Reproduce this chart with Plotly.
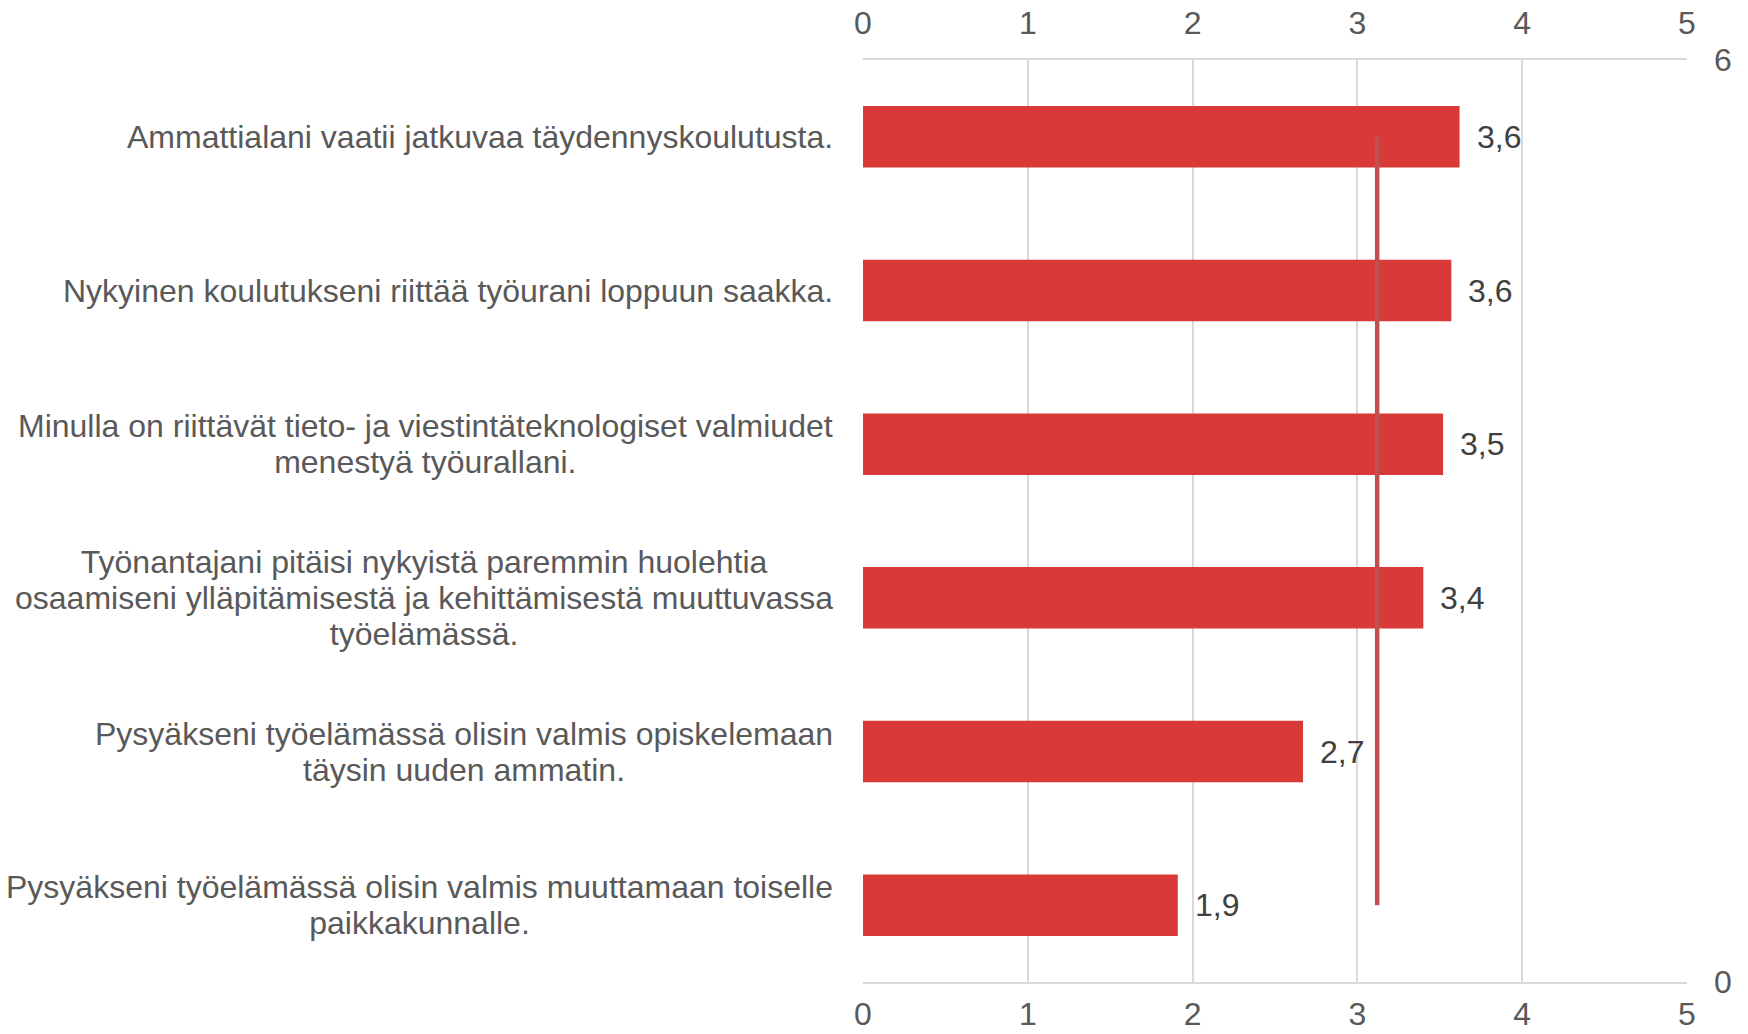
import plotly.graph_objects as go

categories = [
    "Ammattialani vaatii jatkuvaa täydennyskoulutusta.",
    "Nykyinen koulutukseni riittää työurani loppuun saakka.",
    "Minulla on riittävät tieto- ja viestintäteknologiset valmiudet<br>menestyä työurallani.",
    "Työnantajani pitäisi nykyistä paremmin huolehtia<br>osaamiseni ylläpitämisestä ja kehittämisestä muuttuvassa<br>työelämässä.",
    "Pysyäkseni työelämässä olisin valmis opiskelemaan<br>täysin uuden ammatin.",
    "Pysyäkseni työelämässä olisin valmis muuttamaan toiselle<br>paikkakunnalle.",
]
values = [3.62, 3.57, 3.52, 3.40, 2.67, 1.91]
value_labels = ["3,6", "3,6", "3,5", "3,4", "2,7", "1,9"]
average_value = 3.12
average_line_y = [0.5, 5.5]
x_ticks = [0, 1, 2, 3, 4, 5]

FONT = "Liberation Sans, Arial, sans-serif"
FS = 32
TICK_COLOR = "#595959"
GRID = "#D9D9D9"

fig = go.Figure()
fig.add_trace(go.Bar(
    y=categories, x=values, orientation="h",
    marker=dict(color="#D83A37", line=dict(width=0)),
    xaxis="x", yaxis="y", showlegend=False,
))
fig.add_trace(go.Scatter(
    x=[average_value] * len(average_line_y), y=average_line_y,
    mode="lines", line=dict(color="#C0504D", width=4.5),
    xaxis="x2", yaxis="y2", showlegend=False, hoverinfo="skip",
))

for c, v, t in zip(categories, values, value_labels):
    fig.add_annotation(
        x=v, y=c, xref="x", yref="y", xanchor="left", yanchor="middle",
        xshift=15, text=t, showarrow=False,
        font=dict(family=FONT, size=FS, color="#404040"),
    )
    styled = "<br>".join(
        f'<span style="font-size:{FS}px">{line}</span>' for line in c.split("<br>")
    )
    fig.add_annotation(
        x=0, y=c, xref="paper", yref="y", xanchor="right", yanchor="middle",
        xshift=-28, text=styled, showarrow=False, align="center",
        font=dict(family=FONT, size=27.7, color=TICK_COLOR),
    )

axis_common = dict(
    range=[0, 5], tickvals=x_ticks, showgrid=True, gridcolor=GRID, gridwidth=2,
    zeroline=False, showline=True, linecolor=GRID, linewidth=2, automargin=False,
    tickfont=dict(family=FONT, size=FS, color=TICK_COLOR), ticks="",
)

fig.update_layout(
    width=1748, height=1034,
    margin=dict(l=863, r=61, t=60, b=52, autoexpand=False),
    paper_bgcolor="white", plot_bgcolor="white",
    bargap=0.6,
    separators=", ",
    xaxis=dict(**axis_common, side="bottom", ticklabelstandoff=3),
    xaxis2=dict(**axis_common, side="top", overlaying="x", anchor="y", ticklabelstandoff=11),
    yaxis=dict(type="category", categoryorder="array", categoryarray=categories[::-1],
               showticklabels=False, showgrid=False, zeroline=False, range=[-0.5, 5.5],
               automargin=False),
    yaxis2=dict(range=[0, 6], tickvals=[0, 6], side="right", overlaying="y", anchor="x",
                showgrid=False, zeroline=False, showline=False, automargin=False,
                tickfont=dict(family=FONT, size=FS, color=TICK_COLOR), ticklabelstandoff=26),
)

fig.write_html(
    "out.html",
    config={"displayModeBar": False},
    post_script="document.body.style.margin='0';document.body.style.overflow='hidden';",
)
